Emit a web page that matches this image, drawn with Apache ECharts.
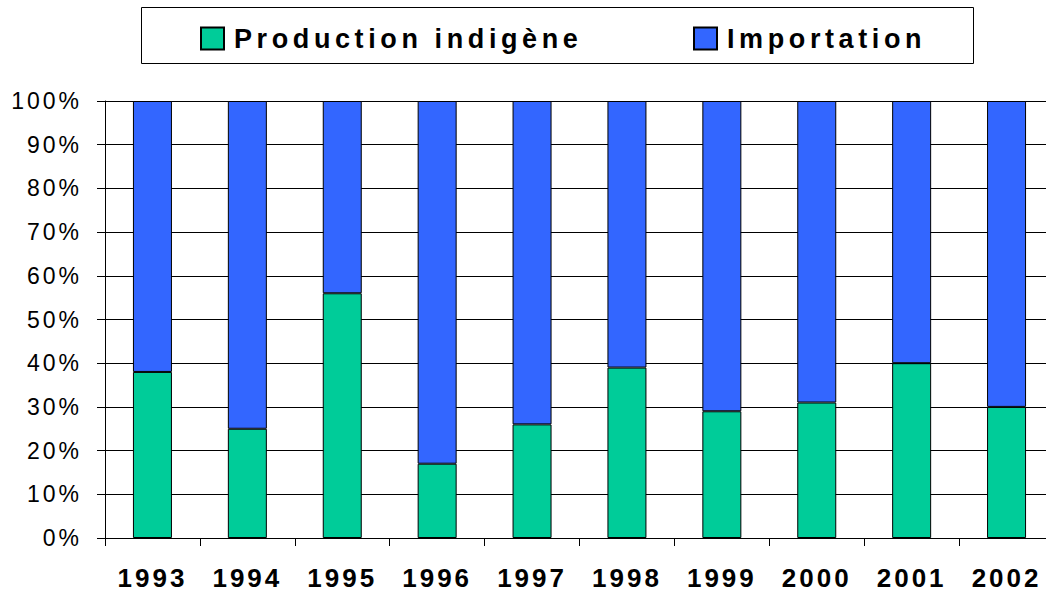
<!DOCTYPE html>
<html>
<head>
<meta charset="utf-8">
<script src="https://cdn.jsdelivr.net/npm/echarts@6/dist/echarts.min.js"></script>
<style>
  html, body { margin: 0; padding: 0; background: #fff; }
  #chart { width: 1046px; height: 593px; }
  /* the original was drawn with widely spaced letters */
  #chart text[style*="23px"] { letter-spacing: 3px; }
  #chart text[style*="27px"] { letter-spacing: 4.6px; }
  #chart text[style*="26px"] { letter-spacing: 3px; }
</style>
</head>
<body>
<div id="chart"></div>
<script>
// years and shares (percent)
const years = ['1993', '1994', '1995', '1996', '1997', '1998', '1999', '2000', '2001', '2002']
const production = [38, 25, 56, 17, 26, 39, 29, 31, 40, 30]
const importation = [62, 75, 44, 83, 74, 61, 71, 69, 60, 70]

const FONT = 'Liberation Sans, Arial, sans-serif'

const chart = echarts.init(document.getElementById('chart'), null, { renderer: 'svg' })

function legendAt(left, name) {
  return {
    left,
    top: 25,
    padding: 0,
    icon: 'rect',
    itemWidth: 23,
    itemHeight: 22,
    textStyle: {
      fontFamily: FONT,
      fontWeight: 'bold',
      fontSize: 27,
      color: '#000',
      padding: [0, 0, 0, 5],
    },
    data: [name],
  }
}

chart.setOption({
  animation: false,
  graphic: [
    {
      type: 'rect',
      shape: { x: 141.5, y: 7.5, width: 832, height: 56 },
      style: { fill: 'none', stroke: '#000', lineWidth: 1 },
      silent: true,
    },
  ],
  legend: [legendAt(200, 'Production indigène'), legendAt(693, 'Importation')],
  grid: {
    left: 105,
    top: 101,
    right: -8,
    height: 437,
    containLabel: false,
    outerBoundsMode: 'none',
  },
  xAxis: {
    type: 'category',
    data: years,
    axisLine: { lineStyle: { color: '#000', width: 1 } },
    axisTick: { show: true, length: 8, lineStyle: { color: '#000' } },
    axisLabel: {
      margin: 28,
      color: '#000',
      fontFamily: FONT,
      fontWeight: 'bold',
      fontSize: 26,
      lineHeight: 24,
    },
  },
  yAxis: {
    type: 'value',
    min: 0,
    max: 100,
    interval: 10,
    axisLine: { show: true, lineStyle: { color: '#000', width: 1 } },
    axisTick: { show: true, length: 8, lineStyle: { color: '#000' } },
    splitLine: { lineStyle: { color: '#000', width: 1 } },
    axisLabel: {
      margin: 23,
      color: '#000',
      fontFamily: FONT,
      fontSize: 23,
      formatter: '{value}%',
    },
  },
  series: [
    {
      name: 'Production indigène',
      type: 'bar',
      stack: 'total',
      barWidth: 39,
      data: production,
      itemStyle: { color: '#00CC99', borderColor: '#000', borderWidth: 1 },
    },
    {
      name: 'Importation',
      type: 'bar',
      stack: 'total',
      barWidth: 39,
      data: importation,
      itemStyle: { color: '#3366FF', borderColor: '#000', borderWidth: 1 },
    },
  ],
})
</script>
</body>
</html>
